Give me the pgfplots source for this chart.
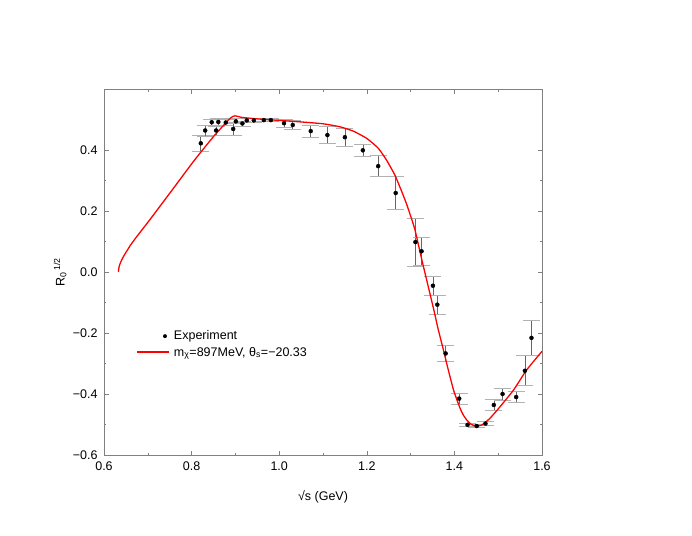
\documentclass[border=0pt]{standalone}
\usepackage{fontspec}
\setmainfont{Liberation Sans}
\usepackage{pgfplots}
\usepackage{pgfplotstable}
\pgfplotsset{compat=1.18}

% experiment: sqrt(s), R, error
\pgfplotstableread{
x      y       e
0.821  0.422   0.025
0.831  0.464   0.018
0.846  0.491   0.010
0.856  0.464   0.015
0.861  0.492   0.010
0.878  0.490   0.010
0.895  0.469   0.021
0.901  0.494   0.008
0.916  0.487   0.008
0.926  0.497   0.005
0.942  0.497   0.005
0.965  0.498   0.004
0.981  0.498   0.004
1.011  0.488   0.013
1.031  0.482   0.016
1.072  0.462   0.020
1.110  0.449   0.027
1.150  0.442   0.030
1.191  0.399   0.019
1.226  0.347   0.034
1.266  0.259   0.055
1.311  0.098   0.078
1.325  0.068   0.047
1.351  -0.045  0.032
1.361  -0.107  0.031
1.380  -0.267  0.026
1.411  -0.415  0.018
1.430  -0.501  0.005
1.451  -0.505  0.004
1.471  -0.497  0.007
1.490  -0.436  0.017
1.510  -0.400  0.020
1.541  -0.410  0.019
1.561  -0.324  0.049
1.576  -0.216  0.058
}\expdata

% model curve
\pgfplotstableread{
x      y
0.633  0.000
0.6335 0.009
0.635  0.020
0.638  0.032
0.642  0.044
0.647  0.057
0.653  0.071
0.660  0.087
0.670  0.107
0.685  0.135
0.705  0.172
0.750  0.258
0.804  0.362
0.850  0.444
0.888  0.504
0.899  0.512
0.914  0.507
0.950  0.502
1.000  0.497
1.050  0.492
1.100  0.486
1.139  0.476
1.169  0.462
1.200  0.438
1.226  0.406
1.245  0.367
1.264  0.318
1.280  0.263
1.290  0.226
1.300  0.184
1.310  0.138
1.325  0.044
1.340  -0.046
1.353  -0.124
1.363  -0.188
1.375  -0.256
1.386  -0.321
1.398  -0.387
1.406  -0.420
1.413  -0.447
1.420  -0.468
1.428  -0.485
1.437  -0.498
1.447  -0.505
1.462  -0.502
1.481  -0.480
1.504  -0.442
1.535  -0.387
1.565  -0.321
1.600  -0.260
}\modeldata

\pgfplotsset{
 expleg/.style={legend image code/.code={%
  \pgfpathmoveto{\pgfpointorigin}\pgfpathlineto{\pgfpoint{32pt}{0pt}}\pgfusepath{}%
  \pgfsetfillcolor{black}\pgfpathcircle{\pgfpoint{31pt}{0pt}}{2pt}\pgfusepath{fill}}},
 blankleg/.style={legend image code/.code={%
  \pgfpathmoveto{\pgfpointorigin}\pgfpathlineto{\pgfpoint{32pt}{0pt}}\pgfusepath{}}}}

\begin{document}
\begin{tikzpicture}
\path[use as bounding box] (-104pt,-80pt) rectangle (588pt,455pt);
\begin{axis}[at={(0,0)},anchor=south west,scale only axis,width=438pt,height=366pt,
 xmin=0.6,xmax=1.6,ymin=-0.6,ymax=0.6,
 xtick={0.6,0.8,1.0,1.2,1.4,1.6},xticklabels={0.6,0.8,1.0,1.2,1.4,1.6},
 ytick={-0.6,-0.4,-0.2,0,0.2,0.4},yticklabels={−0.6,−0.4,−0.2,0.0,0.2,0.4},
 minor x tick num=1,minor y tick num=1,
 tick align=inside,major tick length=4.5pt,minor tick length=2.5pt,
 axis line style={black!50},every tick/.append style={black!50,line width=0.5pt},
 tick label style={font=\fontsize{12.5}{15}\selectfont},
 xticklabel style={yshift=-3pt},yticklabel style={xshift=-3pt},
 label style={font=\fontsize{12.5}{15}\selectfont},
 xlabel={√s (GeV)},ylabel={R\textsubscript{0}\textsuperscript{\,1/2}},
 xlabel style={at={(axis description cs:0.5,-0.115)},anchor=center},
 ylabel style={at={(axis description cs:-0.1,0.5)},anchor=center},
 legend style={at={(axis cs:0.668,-0.19)},anchor=north west,draw=none,fill=none,
  font=\fontsize{12.5}{15}\selectfont,inner sep=0pt,column sep=7pt,row sep=5pt,
  nodes={inner sep=0pt,text height=9pt,text depth=3pt}},
 legend cell align=left]
\addlegendimage{expleg}
\addlegendentry{Experiment}
\addlegendimage{blankleg}
\addlegendentry{m\textsubscript{χ}=897MeV, θ\textsubscript{s}=−20.33}
\addplot[only marks,mark=*,mark size=2pt,black,mark options={solid,fill=black},forget plot,
 error bars/.cd,y dir=both,y explicit,
 error bar style={black!60,line width=0.6pt},
 error mark options={black!30,line width=0.8pt,mark size=8.5pt,rotate=90}]
 table[x=x,y=y,y error=e]{\expdata};
\addplot[red,line width=1.3pt,smooth,tension=0.3,forget plot]
 table[x=x,y=y]{\modeldata};
% legend sample line of the model
\addplot[red,line width=1.3pt,forget plot] coordinates {(0.6755,-0.2625) (0.7485,-0.2625)};
\end{axis}
\end{tikzpicture}
\end{document}
